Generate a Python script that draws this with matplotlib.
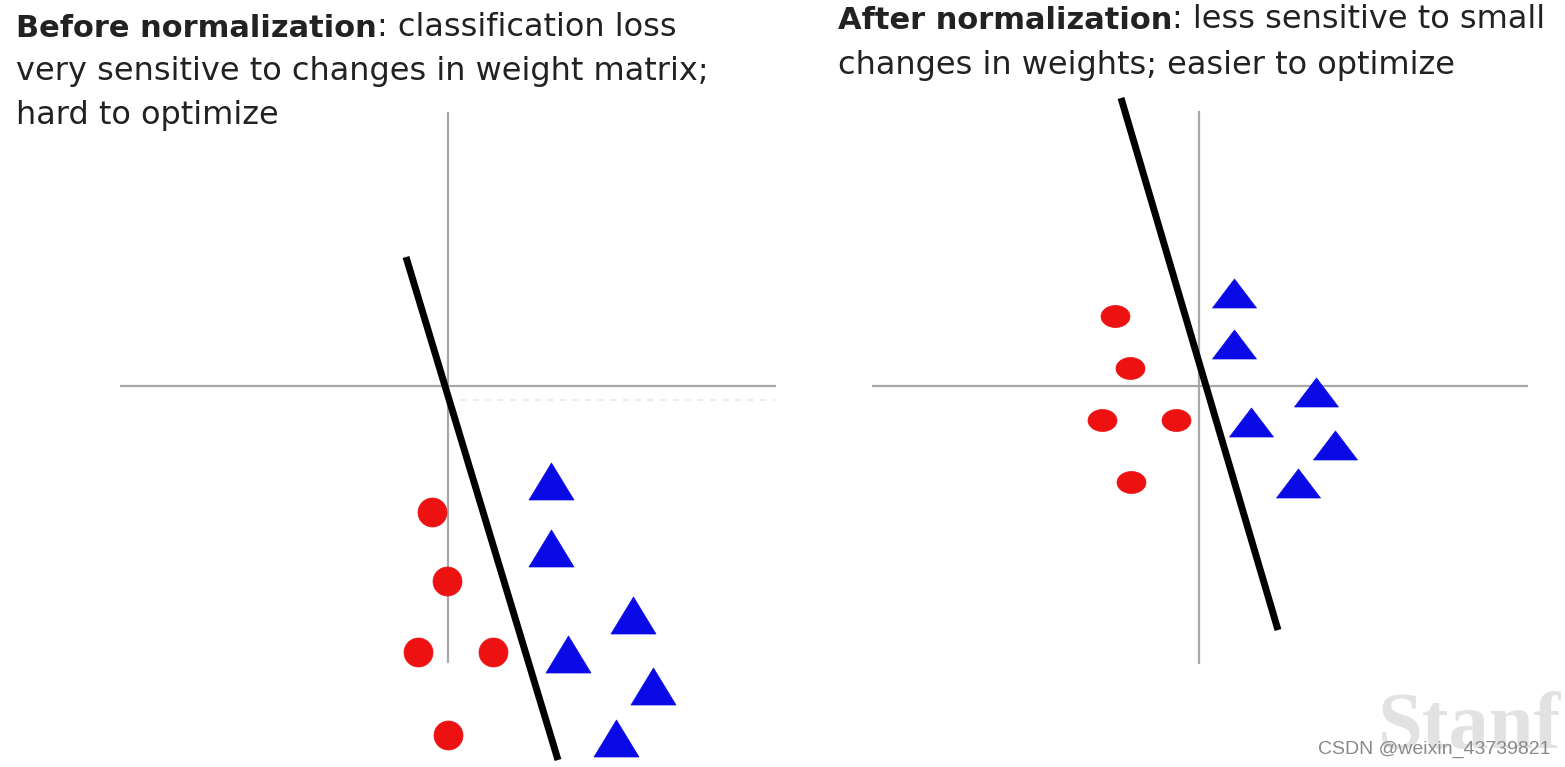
import numpy as np
import matplotlib.pyplot as plt
from matplotlib.path import Path

# --- DATA (units of 10 px, origin at each panel's axis crossing)
# before normalization
red_before_x = [-1.6, -0.1, -3.0, 4.5, 0.0]
red_before_y = [-12.6, -19.5, -26.6, -26.6, -34.9]
blue_before_x = [10.3, 10.3, 18.5, 12.0, 20.5, 16.8]
blue_before_y = [-9.5, -16.2, -22.9, -26.8, -30.0, -35.2]
line_before_x = [-4.2, 11.0]
line_before_y = [12.9, -37.4]

# after normalization
red_after_x = [-8.4, -6.9, -9.7, -2.3, -6.8]
red_after_y = [7.0, 1.8, -3.4, -3.4, -9.6]
blue_after_x = [3.5, 3.5, 11.7, 5.2, 13.6, 9.9]
blue_after_y = [9.3, 4.2, -0.6, -3.6, -5.9, -9.7]
line_after_x = [-7.8, 7.9]
line_after_y = [28.8, -24.4]

title_before = ["Before normalization", ": classification loss",
                "very sensitive to changes in weight matrix;",
                "hard to optimize"]
title_after = ["After normalization", ": less sensitive to small",
               "changes in weights; easier to optimize"]

# --- FIGURE
W, H = 1565, 767
fig = plt.figure(figsize=(W / 100, H / 100), dpi=100)
fig.patch.set_facecolor('white')

RED = '#ee1111'
BLUE = '#0a0ae6'
GRAY = '#a8a8a8'
TXT = '#222222'
FONT = 'DejaVu Sans'


def marker_path(w, h, kind):
    # custom marker keeps its aspect ratio
    if kind == 'tri':
        verts = [(0, h / 2), (-w / 2, -h / 2), (w / 2, -h / 2), (0, h / 2)]
        codes = [Path.MOVETO, Path.LINETO, Path.LINETO, Path.CLOSEPOLY]
        return Path(verts, codes)
    c = Path.unit_circle()
    return Path(c.vertices * [w / 2, h / 2], c.codes)


def panel(x0, x1, y0, y1, ox, oy):
    ax = fig.add_axes([x0 / W, 1 - y1 / H, (x1 - x0) / W, (y1 - y0) / H])
    ax.set_xlim((x0 - ox) / 10, (x1 - ox) / 10)
    ax.set_ylim((oy - y1) / 10, (oy - y0) / 10)
    ax.axis('off')
    return ax


def draw(ax, rx, ry, bx, by, lx, ly, circ, tri, hspan, vspan):
    ax.plot(hspan, [0, 0], color=GRAY, lw=1.6, zorder=1)
    ax.plot([0, 0], vspan, color=GRAY, lw=1.6, zorder=1)
    ax.plot(lx, ly, color='black', lw=5, solid_capstyle='butt', zorder=2)
    cw, ch = circ
    ax.plot(rx, ry, ls='none', marker=marker_path(cw, ch, 'circ'),
            ms=max(cw, ch) * 0.72, color=RED, mec=RED, mew=0.5, zorder=3)
    tw, th = tri
    ax.plot(bx, by, ls='none', marker=marker_path(tw, th, 'tri'),
            ms=max(tw, th) * 0.72, color=BLUE, mec=BLUE, mew=0.5, zorder=3)


ax1 = panel(60, 800, 90, 767, 448, 386)
# faint dotted shadow under the left x axis
ax1.plot([1.2, 32.7], [-1.4, -1.4], color='#ececec', lw=1.5, ls=(0, (3, 3)), zorder=0)
draw(ax1, red_before_x, red_before_y, blue_before_x, blue_before_y,
     line_before_x, line_before_y, (29, 29), (45, 37), [-32.7, 32.7], [27.3, -27.6])

ax2 = panel(850, 1565, 90, 767, 1199, 386)
draw(ax2, red_after_x, red_after_y, blue_after_x, blue_after_y,
     line_after_x, line_after_y, (29, 22), (44, 29), [-32.6, 32.8], [27.4, -27.7])

# --- TITLES
tax = fig.add_axes([0, 0, 1, 1], zorder=5)
tax.set_xlim(0, W)
tax.set_ylim(H, 0)
tax.axis('off')
FS = 23
FSB = 22


def title(x, y0, dy, lines):
    b = tax.text(x, y0, lines[0], fontsize=FSB, fontweight='bold', family=FONT,
                 color=TXT, va='baseline', ha='left')
    tax.annotate(lines[1], xy=(1, 0), xycoords=b, xytext=(0, 0),
                 textcoords='offset points', va='bottom', ha='left',
                 fontsize=FS, family=FONT, color=TXT)
    for i, s in enumerate(lines[2:]):
        tax.text(x, y0 + dy * (i + 1), s, fontsize=FS, family=FONT, color=TXT,
                 va='baseline', ha='left')


title(16, 37, 43.3, title_before)
title(838, 29, 45, title_after)

# watermarks
tax.text(1378, 748, "Stanf", fontsize=58, family='Liberation Serif', fontweight='bold',
         color='#e2e2e2', va='baseline', ha='left', zorder=0)
tax.text(1318, 754, "CSDN @weixin_43739821", fontsize=14, family='Liberation Sans',
         color='#8a8a8a', va='baseline', ha='left')

fig.savefig('out.png', dpi=100)
